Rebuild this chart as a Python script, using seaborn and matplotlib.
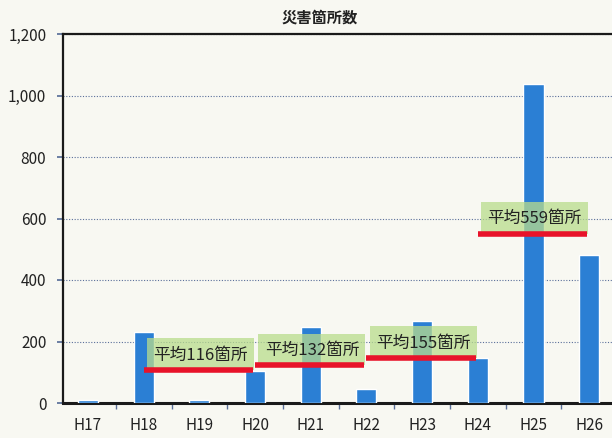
import matplotlib
matplotlib.use("Agg")
import matplotlib.pyplot as plt
import seaborn as sns
import pandas as pd
from matplotlib.ticker import FuncFormatter, FixedLocator
from matplotlib.patches import Rectangle

years = ["H17", "H18", "H19", "H20", "H21", "H22", "H23", "H24", "H25", "H26"]
counts = [10, 231, 10, 104, 247, 45, 267, 146, 1037, 481]
avg_values = [116, 132, 155, 559]
avg_start = ["H18", "H20", "H22", "H24"]
avg_end = ["H20", "H22", "H24", "H26"]
avg_labels = ["平均116箇所", "平均132箇所", "平均155箇所", "平均559箇所"]

sns.set_theme(style="white")
plt.rcParams['font.family'] = ['Noto Sans CJK JP', 'DejaVu Sans']

bg = "#f8f8f2"
fig = plt.figure(figsize=(6.12, 4.38), dpi=100, facecolor=bg)
ax = fig.add_axes([63/612, 1 - 403/438, 554/612, 369/438])
ax.set_facecolor(bg)

df = pd.DataFrame({"year": years, "count": counts})
sns.barplot(data=df, x="year", y="count", color="#2b7fd4", saturation=1,
            width=0.36, ax=ax, zorder=3)

ax.set_xlim(-0.45, 9.5)
ax.set_ylim(0, 1200)
ax.set_yticks(range(0, 1201, 200))
ax.yaxis.set_major_formatter(FuncFormatter(lambda v, p: f"{int(v):,}"))
ax.grid(axis="y", color="#5a6f9a", linestyle=(0, (1, 1.5)), linewidth=0.8, zorder=0)
ax.set_xlabel("")
ax.set_ylabel("")
for s in ["left", "top", "bottom"]:
    ax.spines[s].set_color("#1a1a1a")
    ax.spines[s].set_linewidth(1.6)
ax.spines["right"].set_visible(False)
ax.spines["bottom"].set_linewidth(2.2)

ax.tick_params(axis="y", which="major", length=4, color="#5a6f9a", labelsize=11,
               labelcolor="#222222", pad=8, left=True)
ax.tick_params(axis="x", which="major", length=0, labelsize=11,
               labelcolor="#222222", pad=10)
ax.xaxis.set_minor_locator(FixedLocator([i + 0.5 for i in range(-1, 10)]))
ax.tick_params(axis="x", which="minor", length=4, color="#5a6f9a", bottom=True)

idx = {y: i for i, y in enumerate(years)}
for v, s, e, lab in zip(avg_values, avg_start, avg_end, avg_labels):
    x0, x1 = idx[s], idx[e]
    base = v - 10
    ax.add_patch(Rectangle((x0 + 0.06, base), (x1 - 0.02) - (x0 + 0.06), 104,
                           facecolor="#b9dc8c", alpha=0.75, edgecolor="none", zorder=4))
    ax.hlines(base, x0, x1 - 0.04, color="#e8132a", linewidth=4, zorder=5)
    ax.text((x0 + x1) / 2 + 0.02, base + 50, lab, ha="center", va="center",
            fontsize=12, color="#222222", zorder=6)

fig.text(320/612, 1 - 18/438, "災害箇所数", ha="center", va="center",
         fontsize=11, fontweight="bold", color="#222222")

fig.savefig("out.png", dpi=100, facecolor=bg)
